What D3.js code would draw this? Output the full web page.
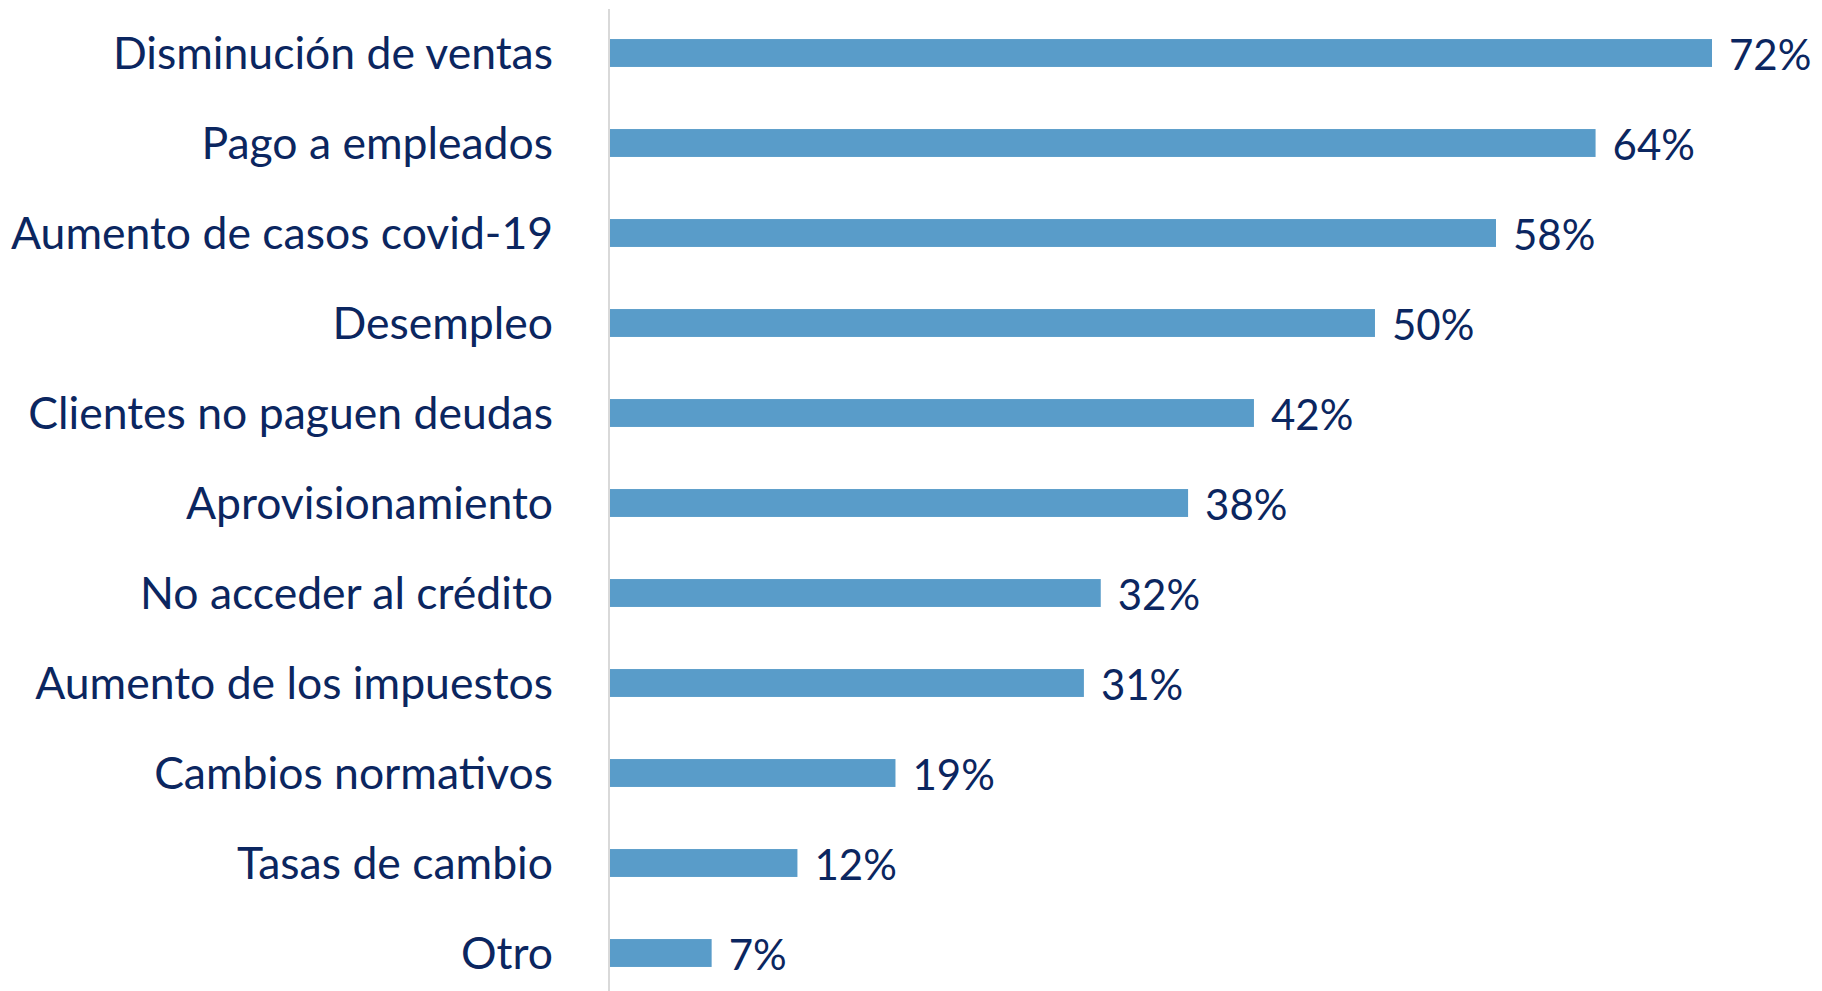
<!DOCTYPE html>
<html>
<head>
<meta charset="utf-8">
<script src="https://cdn.jsdelivr.net/npm/d3@7"></script>
<style>
  body { margin: 0; background: #fff; }
</style>
</head>
<body>
<div id="chart"></div>
<script>
var categories = ["Disminución de ventas", "Pago a empleados", "Aumento de casos covid-19", "Desempleo",
  "Clientes no paguen deudas", "Aprovisionamiento", "No acceder al crédito", "Aumento de los impuestos",
  "Cambios normativos", "Tasas de cambio", "Otro"];
var values = [72.0, 64.4, 57.9, 50.0, 42.1, 37.8, 32.1, 31.0, 18.7, 12.3, 6.7];

var width = 1822, height = 991;
var axisX = 609;

var svg = d3.select("#chart").append("svg")
    .attr("width", width)
    .attr("height", height);

var x = d3.scaleLinear()
    .domain([0, 72])
    .range([axisX, 1712]);

var y = d3.scaleBand()
    .domain(categories)
    .range([8, 998])
    .paddingInner(0.69)
    .paddingOuter(0.345);

// bars
svg.selectAll("rect.bar")
    .data(values)
    .enter()
    .append("rect")
    .attr("class", "bar")
    .attr("x", x(0))
    .attr("y", (d, i) => y(categories[i]))
    .attr("width", d => x(d) - x(0))
    .attr("height", y.bandwidth())
    .attr("fill", "#599cc9");

// axis line
svg.append("line")
    .attr("x1", axisX).attr("x2", axisX)
    .attr("y1", 9).attr("y2", height)
    .attr("stroke", "#d9d9d9")
    .attr("stroke-width", 2);

// category labels
svg.selectAll("text.cat")
    .data(categories)
    .enter()
    .append("text")
    .attr("class", "cat")
    .attr("x", axisX - 56)
    .attr("y", d => y(d) + y.bandwidth() / 2)
    .attr("dy", "0.35em")
    .attr("text-anchor", "end")
    .style("font-family", "Lato, 'Open Sans', sans-serif")
    .style("font-size", "44.5px")
    .style("fill", "#0b2660")
    .text(d => d);

// value labels
svg.selectAll("text.val")
    .data(values)
    .enter()
    .append("text")
    .attr("class", "val")
    .attr("x", d => x(d) + 17)
    .attr("y", (d, i) => y(categories[i]) + y.bandwidth() / 2 + 2)
    .attr("dy", "0.35em")
    .style("font-family", "Lato, 'Open Sans', sans-serif")
    .style("font-size", "42px")
    .style("fill", "#0b2660")
    .text(d => Math.round(d) + "%");
</script>
</body>
</html>
